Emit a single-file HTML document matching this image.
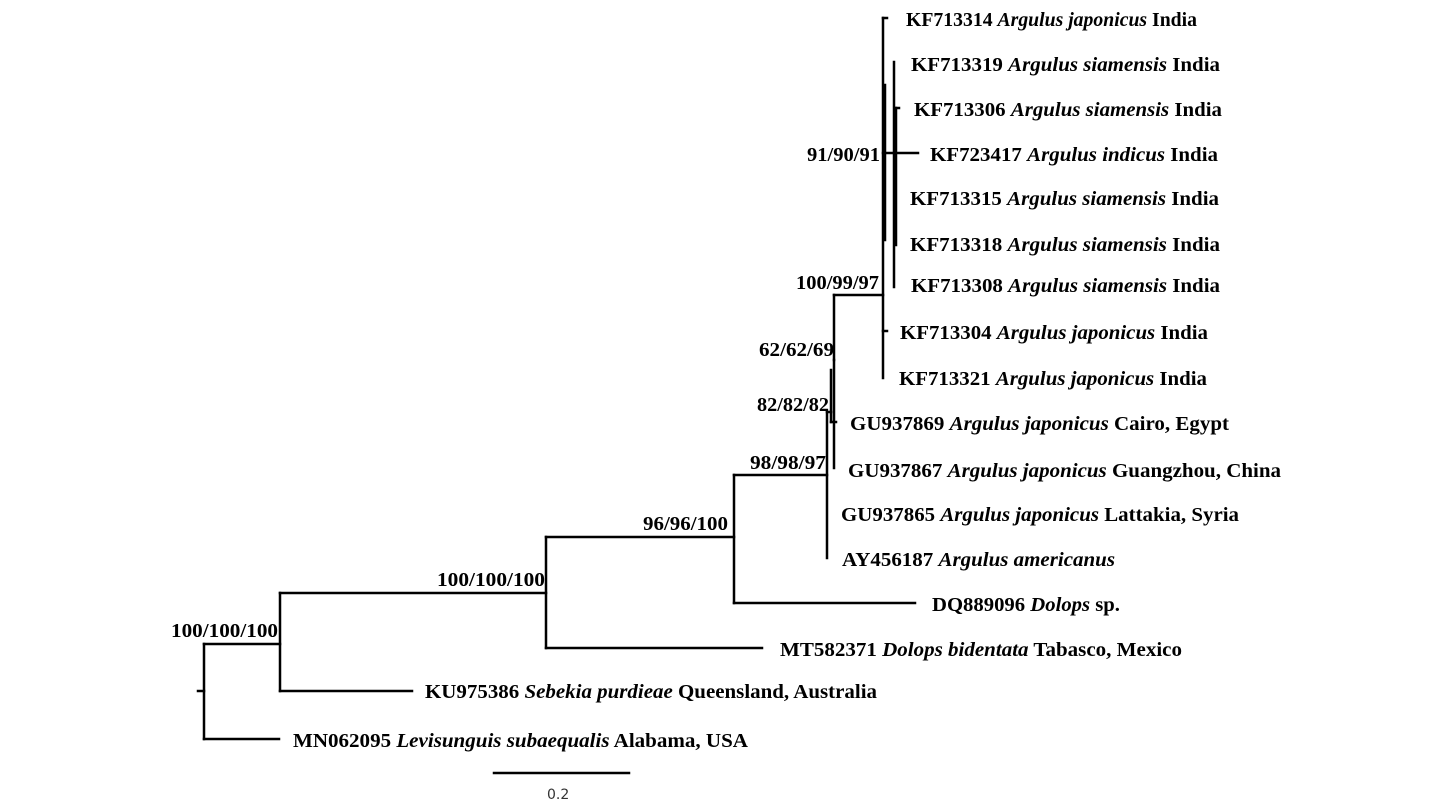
<!DOCTYPE html>
<html><head><meta charset="utf-8"><style>
html,body{margin:0;padding:0;background:#fff;}
svg{display:block;}
text{font-family:"Liberation Serif",serif;font-weight:bold;font-size:20px;fill:#000;}
</style></head><body>
<svg width="1440" height="810" viewBox="0 0 1440 810">
<g stroke="#000" stroke-width="2.5" fill="none" stroke-linecap="square">
<line x1="198" y1="691" x2="204" y2="691"/>
<line x1="204" y1="644" x2="204" y2="739"/>
<line x1="204" y1="644" x2="280" y2="644"/>
<line x1="204" y1="739" x2="279" y2="739"/>
<line x1="280" y1="593" x2="280" y2="691"/>
<line x1="280" y1="691" x2="412" y2="691"/>
<line x1="280" y1="593" x2="546" y2="593"/>
<line x1="546" y1="537" x2="546" y2="648"/>
<line x1="546" y1="648" x2="762" y2="648"/>
<line x1="546" y1="537" x2="734" y2="537"/>
<line x1="734" y1="475" x2="734" y2="603"/>
<line x1="734" y1="603" x2="915" y2="603"/>
<line x1="734" y1="475" x2="827" y2="475"/>
<line x1="827" y1="412" x2="827" y2="558"/>
<line x1="827" y1="412" x2="831" y2="412"/>
<line x1="831" y1="370" x2="831" y2="422"/>
<line x1="834" y1="360" x2="834" y2="468"/>
<line x1="831" y1="422" x2="836" y2="422"/>
<line x1="834" y1="295" x2="834" y2="360"/>
<line x1="834" y1="295" x2="883" y2="295"/>
<line x1="883" y1="18" x2="883" y2="378"/>
<line x1="883" y1="18" x2="887" y2="18"/>
<line x1="883" y1="331" x2="887" y2="331"/>
<line x1="885" y1="85" x2="885" y2="240"/>
<line x1="883" y1="153" x2="894" y2="153"/>
<line x1="894" y1="62" x2="894" y2="287"/>
<line x1="896" y1="108" x2="896" y2="245"/>
<line x1="894" y1="153" x2="918" y2="153"/>
<line x1="896" y1="108" x2="899" y2="108"/>
<line x1="494" y1="773" x2="629" y2="773"/>
</g>
<text x="906" y="26" textLength="291" lengthAdjust="spacingAndGlyphs">KF713314 <tspan font-style="italic">Argulus japonicus</tspan> India</text>
<text x="911" y="71" textLength="309" lengthAdjust="spacingAndGlyphs">KF713319 <tspan font-style="italic">Argulus siamensis</tspan> India</text>
<text x="914" y="116" textLength="308" lengthAdjust="spacingAndGlyphs">KF713306 <tspan font-style="italic">Argulus siamensis</tspan> India</text>
<text x="930" y="161" textLength="288" lengthAdjust="spacingAndGlyphs">KF723417 <tspan font-style="italic">Argulus indicus</tspan> India</text>
<text x="910" y="205" textLength="309" lengthAdjust="spacingAndGlyphs">KF713315 <tspan font-style="italic">Argulus siamensis</tspan> India</text>
<text x="910" y="251" textLength="310" lengthAdjust="spacingAndGlyphs">KF713318 <tspan font-style="italic">Argulus siamensis</tspan> India</text>
<text x="911" y="292" textLength="309" lengthAdjust="spacingAndGlyphs">KF713308 <tspan font-style="italic">Argulus siamensis</tspan> India</text>
<text x="900" y="339" textLength="308" lengthAdjust="spacingAndGlyphs">KF713304 <tspan font-style="italic">Argulus japonicus</tspan> India</text>
<text x="899" y="385" textLength="308" lengthAdjust="spacingAndGlyphs">KF713321 <tspan font-style="italic">Argulus japonicus</tspan> India</text>
<text x="850" y="430" textLength="379" lengthAdjust="spacingAndGlyphs">GU937869 <tspan font-style="italic">Argulus japonicus</tspan> Cairo, Egypt</text>
<text x="848" y="477" textLength="433" lengthAdjust="spacingAndGlyphs">GU937867 <tspan font-style="italic">Argulus japonicus</tspan> Guangzhou, China</text>
<text x="841" y="521" textLength="398" lengthAdjust="spacingAndGlyphs">GU937865 <tspan font-style="italic">Argulus japonicus</tspan> Lattakia, Syria</text>
<text x="842" y="566" textLength="273" lengthAdjust="spacingAndGlyphs">AY456187 <tspan font-style="italic">Argulus americanus</tspan></text>
<text x="932" y="611" textLength="188" lengthAdjust="spacingAndGlyphs">DQ889096 <tspan font-style="italic">Dolops</tspan> sp.</text>
<text x="780" y="656" textLength="402" lengthAdjust="spacingAndGlyphs">MT582371 <tspan font-style="italic">Dolops bidentata</tspan> Tabasco, Mexico</text>
<text x="425" y="698" textLength="452" lengthAdjust="spacingAndGlyphs">KU975386 <tspan font-style="italic">Sebekia purdieae</tspan> Queensland, Australia</text>
<text x="293" y="747" textLength="455" lengthAdjust="spacingAndGlyphs">MN062095 <tspan font-style="italic">Levisunguis subaequalis</tspan> Alabama, USA</text>
<text x="807" y="161" textLength="73" lengthAdjust="spacingAndGlyphs">91/90/91</text>
<text x="796" y="289" textLength="83" lengthAdjust="spacingAndGlyphs">100/99/97</text>
<text x="759" y="356" textLength="75" lengthAdjust="spacingAndGlyphs">62/62/69</text>
<text x="757" y="411" textLength="72" lengthAdjust="spacingAndGlyphs">82/82/82</text>
<text x="750" y="469" textLength="76" lengthAdjust="spacingAndGlyphs">98/98/97</text>
<text x="643" y="530" textLength="85" lengthAdjust="spacingAndGlyphs">96/96/100</text>
<text x="437" y="586" textLength="108" lengthAdjust="spacingAndGlyphs">100/100/100</text>
<text x="171" y="637" textLength="107" lengthAdjust="spacingAndGlyphs">100/100/100</text>
<text x="547" y="799" style="font-family:'DejaVu Sans',sans-serif;font-weight:normal;font-size:14px;fill:#333">0.2</text>
</svg>
</body></html>
